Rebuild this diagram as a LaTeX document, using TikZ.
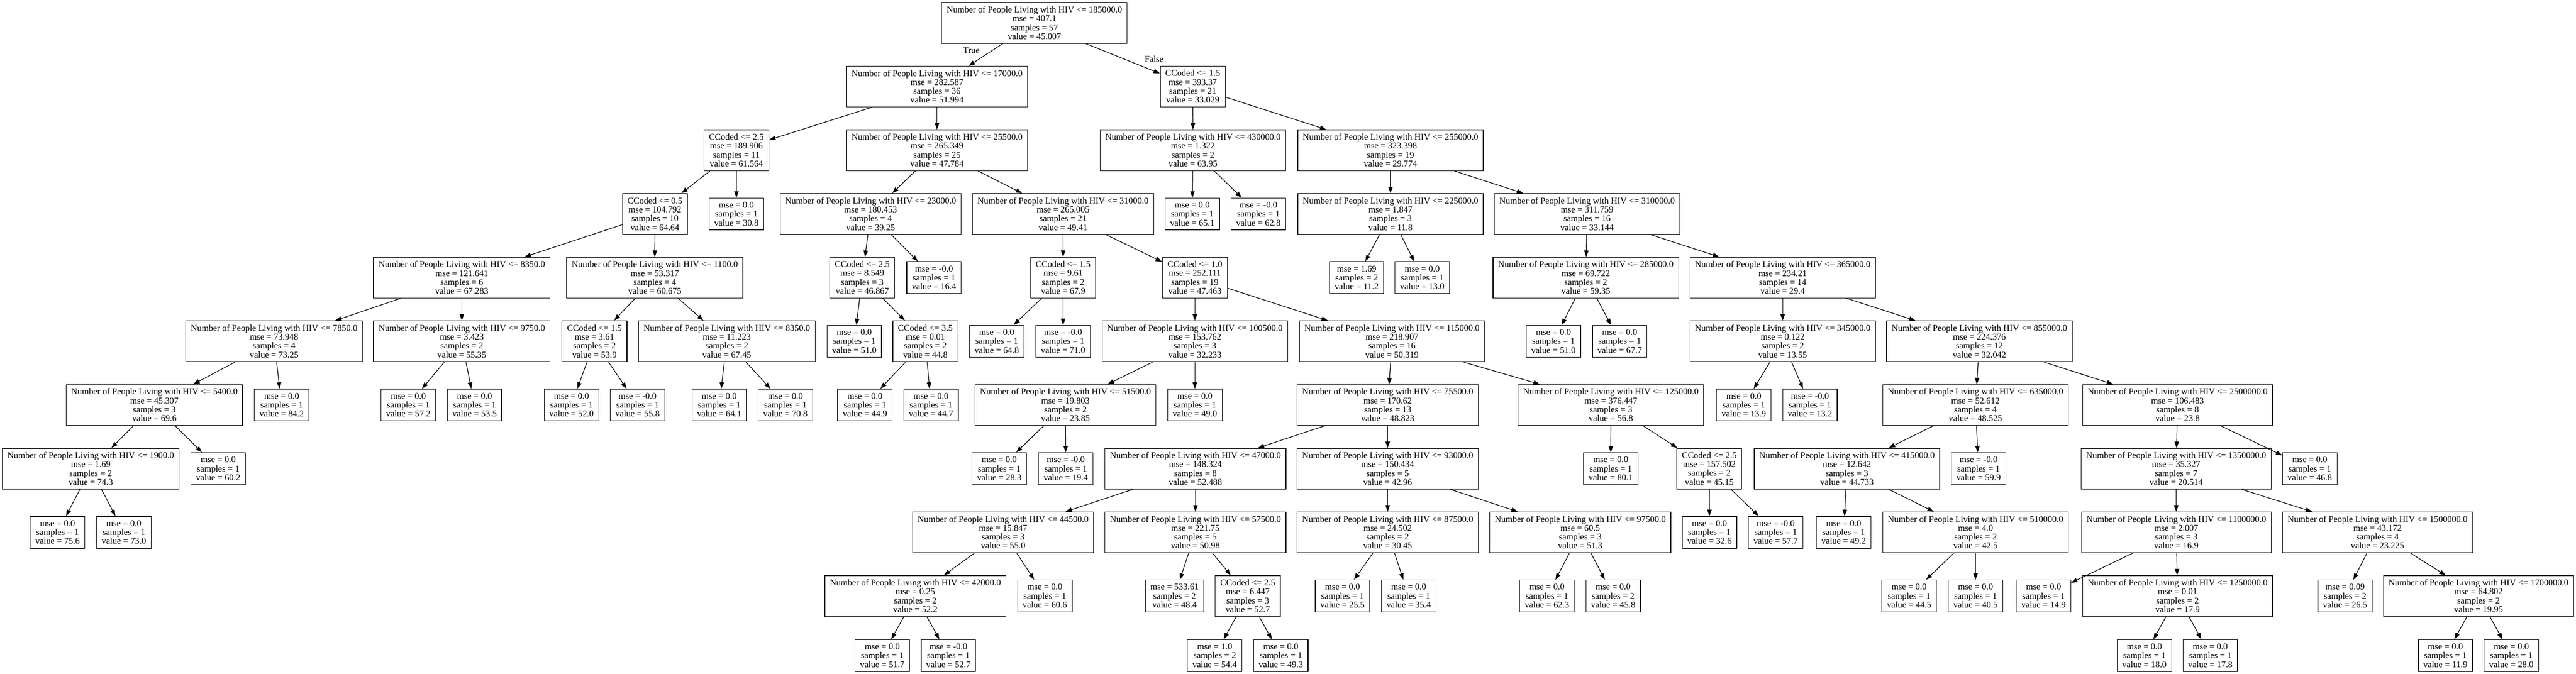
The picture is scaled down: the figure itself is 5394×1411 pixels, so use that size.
\documentclass[tikz,border=0pt]{standalone}
\usepackage{fontspec}
\setmainfont{Liberation Serif}
\usetikzlibrary{arrows.meta}

\begin{document}
\begin{tikzpicture}[
		x=0.75bp, y=-0.75bp,
		every node/.style={font=\fontsize{14bp}{14bp}\selectfont},
		arrow/.style={line width=1bp, -{Triangle[length=10bp, width=7bp]}},
		test box/.style={draw, line width=1bp, align=center, inner xsep=7.92bp, inner ysep=3.96bp, minimum height=64bp},
		leaf box/.style={test box, minimum height=50bp},
	]
	\useasboundingbox (0,0) rectangle (5394,1411);

	% rank 0 and 1
	\node[test box] (hiv 185000) at (2166,48) {Number of People Living with HIV <= 185000.0\\mse = 407.1\\samples = 57\\value = 45.007};
	\node[test box] (hiv 17000) at (1962,181.3) {Number of People Living with HIV <= 17000.0\\mse = 282.587\\samples = 36\\value = 51.994};
	\node[test box] (ccoded 15 a) at (2497.6,181.3) {CCoded <= 1.5\\mse = 393.37\\samples = 21\\value = 33.029};
	\node (true label) at (2034,106) {True};
	\node (false label) at (2416.5,124) {False};

	% rank 2
	\node[test box] (ccoded 25 a) at (1542,314.6) {CCoded <= 2.5\\mse = 189.906\\samples = 11\\value = 61.564};
	\node[test box] (hiv 25500) at (1962,314.6) {Number of People Living with HIV <= 25500.0\\mse = 265.349\\samples = 25\\value = 47.784};
	\node[test box] (hiv 430000) at (2498,314.6) {Number of People Living with HIV <= 430000.0\\mse = 1.322\\samples = 2\\value = 63.95};
	\node[test box] (hiv 255000) at (2911.6,314.6) {Number of People Living with HIV <= 255000.0\\mse = 323.398\\samples = 19\\value = 29.774};

	% rank 3
	\node[test box] (ccoded 05) at (1371.4,447.9) {CCoded <= 0.5\\mse = 104.792\\samples = 10\\value = 64.64};
	\node[leaf box] (leaf 308) at (1542,447.9) {mse = 0.0\\samples = 1\\value = 30.8};
	\node[test box] (hiv 23000) at (1823,447.9) {Number of People Living with HIV <= 23000.0\\mse = 180.453\\samples = 4\\value = 39.25};
	\node[test box] (hiv 31000) at (2226,447.9) {Number of People Living with HIV <= 31000.0\\mse = 265.005\\samples = 21\\value = 49.41};
	\node[leaf box] (leaf 651) at (2496.5,447.9) {mse = 0.0\\samples = 1\\value = 65.1};
	\node[leaf box] (leaf 628) at (2635,447.9) {mse = -0.0\\samples = 1\\value = 62.8};
	\node[test box] (hiv 225000) at (2911.6,447.9) {Number of People Living with HIV <= 225000.0\\mse = 1.847\\samples = 3\\value = 11.8};
	\node[test box] (hiv 310000) at (3323.2,447.9) {Number of People Living with HIV <= 310000.0\\mse = 311.759\\samples = 16\\value = 33.144};

	% rank 4
	\node[test box] (hiv 8350 a) at (967,581.2) {Number of People Living with HIV <= 8350.0\\mse = 121.641\\samples = 6\\value = 67.283};
	\node[test box] (hiv 1100) at (1371.1,581.2) {Number of People Living with HIV <= 1100.0\\mse = 53.317\\samples = 4\\value = 60.675};
	\node[test box] (ccoded 25 b) at (1805.6,581.2) {CCoded <= 2.5\\mse = 8.549\\samples = 3\\value = 46.867};
	\node[leaf box] (leaf 164) at (1955.7,581.2) {mse = -0.0\\samples = 1\\value = 16.4};
	\node[test box] (ccoded 15 c) at (2226.2,581.2) {CCoded <= 1.5\\mse = 9.61\\samples = 2\\value = 67.9};
	\node[test box] (ccoded 10) at (2502,581.2) {CCoded <= 1.0\\mse = 252.111\\samples = 19\\value = 47.463};
	\node[leaf box] (leaf 112) at (2840.8,581.2) {mse = 1.69\\samples = 2\\value = 11.2};
	\node[leaf box] (leaf 130) at (2978,581.2) {mse = 0.0\\samples = 1\\value = 13.0};
	\node[test box] (hiv 285000) at (3320.6,581.2) {Number of People Living with HIV <= 285000.0\\mse = 69.722\\samples = 2\\value = 59.35};
	\node[test box] (hiv 365000) at (3732.8,581.2) {Number of People Living with HIV <= 365000.0\\mse = 234.21\\samples = 14\\value = 29.4};

	% rank 5
	\node[test box] (hiv 7850) at (574,714.5) {Number of People Living with HIV <= 7850.0\\mse = 73.948\\samples = 4\\value = 73.25};
	\node[test box] (hiv 9750) at (967,714.5) {Number of People Living with HIV <= 9750.0\\mse = 3.423\\samples = 2\\value = 55.35};
	\node[test box] (ccoded 15 b) at (1244.8,714.5) {CCoded <= 1.5\\mse = 3.61\\samples = 2\\value = 53.9};
	\node[test box] (hiv 8350 b) at (1521.9,714.5) {Number of People Living with HIV <= 8350.0\\mse = 11.223\\samples = 2\\value = 67.45};
	\node[leaf box] (leaf 510 a) at (1788.8,714.5) {mse = 0.0\\samples = 1\\value = 51.0};
	\node[test box] (ccoded 35) at (1937.6,714.5) {CCoded <= 3.5\\mse = 0.01\\samples = 2\\value = 44.8};
	\node[leaf box] (leaf 648) at (2087,714.5) {mse = 0.0\\samples = 1\\value = 64.8};
	\node[leaf box] (leaf 710) at (2226,714.5) {mse = -0.0\\samples = 1\\value = 71.0};
	\node[test box] (hiv 100500) at (2502,714.5) {Number of People Living with HIV <= 100500.0\\mse = 153.762\\samples = 3\\value = 32.233};
	\node[test box] (hiv 115000) at (2914.8,714.5) {Number of People Living with HIV <= 115000.0\\mse = 218.907\\samples = 16\\value = 50.319};
	\node[leaf box] (leaf 510 b) at (3252.8,714.5) {mse = 0.0\\samples = 1\\value = 51.0};
	\node[leaf box] (leaf 677) at (3391.5,714.5) {mse = 0.0\\samples = 1\\value = 67.7};
	\node[test box] (hiv 345000) at (3732.8,714.5) {Number of People Living with HIV <= 345000.0\\mse = 0.122\\samples = 2\\value = 13.55};
	\node[test box] (hiv 855000) at (4144.7,714.5) {Number of People Living with HIV <= 855000.0\\mse = 224.376\\samples = 12\\value = 32.042};

	% rank 6
	\node[test box] (hiv 5400) at (323.2,847.8) {Number of People Living with HIV <= 5400.0\\mse = 45.307\\samples = 3\\value = 69.6};
	\node[leaf box] (leaf 842) at (589.8,847.8) {mse = 0.0\\samples = 1\\value = 84.2};
	\node[leaf box] (leaf 572) at (855,847.8) {mse = 0.0\\samples = 1\\value = 57.2};
	\node[leaf box] (leaf 535) at (993.7,847.8) {mse = 0.0\\samples = 1\\value = 53.5};
	\node[leaf box] (leaf 520) at (1196.7,847.8) {mse = 0.0\\samples = 1\\value = 52.0};
	\node[leaf box] (leaf 558) at (1335,847.8) {mse = -0.0\\samples = 1\\value = 55.8};
	\node[leaf box] (leaf 641) at (1506.1,847.8) {mse = 0.0\\samples = 1\\value = 64.1};
	\node[leaf box] (leaf 708) at (1644.6,847.8) {mse = 0.0\\samples = 1\\value = 70.8};
	\node[leaf box] (leaf 449) at (1811.2,847.8) {mse = 0.0\\samples = 1\\value = 44.9};
	\node[leaf box] (leaf 447) at (1949.5,847.8) {mse = 0.0\\samples = 1\\value = 44.7};
	\node[test box] (hiv 51500) at (2231,847.8) {Number of People Living with HIV <= 51500.0\\mse = 19.803\\samples = 2\\value = 23.85};
	\node[leaf box] (leaf 490) at (2502,847.8) {mse = 0.0\\samples = 1\\value = 49.0};
	\node[test box] (hiv 75500) at (2905.7,847.8) {Number of People Living with HIV <= 75500.0\\mse = 170.62\\samples = 13\\value = 48.823};
	\node[test box] (hiv 125000) at (3373.1,847.8) {Number of People Living with HIV <= 125000.0\\mse = 376.447\\samples = 3\\value = 56.8};
	\node[leaf box] (leaf 139) at (3651.4,847.8) {mse = 0.0\\samples = 1\\value = 13.9};
	\node[leaf box] (leaf 132) at (3790,847.8) {mse = -0.0\\samples = 1\\value = 13.2};
	\node[test box] (hiv 635000) at (4136.5,847.8) {Number of People Living with HIV <= 635000.0\\mse = 52.612\\samples = 4\\value = 48.525};
	\node[test box] (hiv 2500000) at (4559.6,847.8) {Number of People Living with HIV <= 2500000.0\\mse = 106.483\\samples = 8\\value = 23.8};

	% rank 7
	\node[test box] (hiv 1900) at (190,981.1) {Number of People Living with HIV <= 1900.0\\mse = 1.69\\samples = 2\\value = 74.3};
	\node[leaf box] (leaf 602) at (456.9,981.1) {mse = 0.0\\samples = 1\\value = 60.2};
	\node[leaf box] (leaf 283) at (2092.4,981.1) {mse = 0.0\\samples = 1\\value = 28.3};
	\node[leaf box] (leaf 194) at (2231.7,981.1) {mse = -0.0\\samples = 1\\value = 19.4};
	\node[test box] (hiv 47000) at (2503.1,981.1) {Number of People Living with HIV <= 47000.0\\mse = 148.324\\samples = 8\\value = 52.488};
	\node[test box] (hiv 93000) at (2905.7,981.1) {Number of People Living with HIV <= 93000.0\\mse = 150.434\\samples = 5\\value = 42.96};
	\node[leaf box] (leaf 801) at (3372.8,981.1) {mse = 0.0\\samples = 1\\value = 80.1};
	\node[test box] (ccoded 25 d) at (3579.2,981.1) {CCoded <= 2.5\\mse = 157.502\\samples = 2\\value = 45.15};
	\node[test box] (hiv 415000) at (3867.4,981.1) {Number of People Living with HIV <= 415000.0\\mse = 12.642\\samples = 3\\value = 44.733};
	\node[leaf box] (leaf 599) at (4142.9,981.1) {mse = -0.0\\samples = 1\\value = 59.9};
	\node[test box] (hiv 1350000) at (4556.6,981.1) {Number of People Living with HIV <= 1350000.0\\mse = 35.327\\samples = 7\\value = 20.514};
	\node[leaf box] (leaf 468) at (4836.5,981.1) {mse = 0.0\\samples = 1\\value = 46.8};

	% rank 8
	\node[leaf box] (leaf 756) at (120.5,1114.4) {mse = 0.0\\samples = 1\\value = 75.6};
	\node[leaf box] (leaf 730) at (259.4,1114.4) {mse = 0.0\\samples = 1\\value = 73.0};
	\node[test box] (hiv 44500) at (2100.5,1114.4) {Number of People Living with HIV <= 44500.0\\mse = 15.847\\samples = 3\\value = 55.0};
	\node[test box] (hiv 57500) at (2503.1,1114.4) {Number of People Living with HIV <= 57500.0\\mse = 221.75\\samples = 5\\value = 50.98};
	\node[test box] (hiv 87500) at (2905.7,1114.4) {Number of People Living with HIV <= 87500.0\\mse = 24.502\\samples = 2\\value = 30.45};
	\node[test box] (hiv 97500) at (3308.9,1114.4) {Number of People Living with HIV <= 97500.0\\mse = 60.5\\samples = 3\\value = 51.3};
	\node[leaf box] (leaf 326) at (3579.5,1114.4) {mse = 0.0\\samples = 1\\value = 32.6};
	\node[leaf box] (leaf 577) at (3718.2,1114.4) {mse = -0.0\\samples = 1\\value = 57.7};
	\node[leaf box] (leaf 492) at (3860.5,1114.4) {mse = 0.0\\samples = 1\\value = 49.2};
	\node[test box] (hiv 510000) at (4136.6,1114.4) {Number of People Living with HIV <= 510000.0\\mse = 4.0\\samples = 2\\value = 42.5};
	\node[test box] (hiv 1100000) at (4557,1114.4) {Number of People Living with HIV <= 1100000.0\\mse = 2.007\\samples = 3\\value = 16.9};
	\node[test box] (hiv 1500000) at (4978.3,1114.4) {Number of People Living with HIV <= 1500000.0\\mse = 43.172\\samples = 4\\value = 23.225};

	% rank 9
	\node[test box] (hiv 42000) at (1916.7,1247.7) {Number of People Living with HIV <= 42000.0\\mse = 0.25\\samples = 2\\value = 52.2};
	\node[leaf box] (leaf 606) at (2187.8,1247.7) {mse = 0.0\\samples = 1\\value = 60.6};
	\node[leaf box] (leaf 484) at (2459.5,1247.7) {mse = 533.61\\samples = 2\\value = 48.4};
	\node[test box] (ccoded 25 c) at (2612.7,1247.7) {CCoded <= 2.5\\mse = 6.447\\samples = 3\\value = 52.7};
	\node[leaf box] (leaf 255) at (2811.1,1247.7) {mse = 0.0\\samples = 1\\value = 25.5};
	\node[leaf box] (leaf 354) at (2949.8,1247.7) {mse = 0.0\\samples = 1\\value = 35.4};
	\node[leaf box] (leaf 623) at (3239.3,1247.7) {mse = 0.0\\samples = 1\\value = 62.3};
	\node[leaf box] (leaf 458) at (3377.8,1247.7) {mse = 0.0\\samples = 2\\value = 45.8};
	\node[leaf box] (leaf 445) at (3997.6,1247.7) {mse = 0.0\\samples = 1\\value = 44.5};
	\node[leaf box] (leaf 405) at (4136.6,1247.7) {mse = 0.0\\samples = 1\\value = 40.5};
	\node[leaf box] (leaf 149) at (4279,1247.7) {mse = 0.0\\samples = 1\\value = 14.9};
	\node[test box] (hiv 1250000) at (4559.6,1247.7) {Number of People Living with HIV <= 1250000.0\\mse = 0.01\\samples = 2\\value = 17.9};
	\node[leaf box] (leaf 265) at (4910.4,1247.7) {mse = 0.09\\samples = 2\\value = 26.5};
	\node[test box] (hiv 1700000) at (5189.8,1247.7) {Number of People Living with HIV <= 1700000.0\\mse = 64.802\\samples = 2\\value = 19.95};

	% rank 10
	\node[leaf box] (leaf 517) at (1847.4,1372.3) {mse = 0.0\\samples = 1\\value = 51.7};
	\node[leaf box] (leaf 527) at (1985.8,1372.3) {mse = -0.0\\samples = 1\\value = 52.7};
	\node[leaf box] (leaf 544) at (2543.5,1372.3) {mse = 1.0\\samples = 2\\value = 54.4};
	\node[leaf box] (leaf 493) at (2682,1372.3) {mse = 0.0\\samples = 1\\value = 49.3};
	\node[leaf box] (leaf 180) at (4490.2,1372.3) {mse = 0.0\\samples = 1\\value = 18.0};
	\node[leaf box] (leaf 178) at (4628.2,1372.3) {mse = 0.0\\samples = 1\\value = 17.8};
	\node[leaf box] (leaf 119) at (5120.4,1372.3) {mse = 0.0\\samples = 1\\value = 11.9};
	\node[leaf box] (leaf 280) at (5258.5,1372.3) {mse = 0.0\\samples = 1\\value = 28.0};

	\draw[arrow] (hiv 185000) -- (hiv 17000);
	\draw[arrow] (hiv 185000) -- (ccoded 15 a);
	\draw[arrow] (hiv 17000) -- (ccoded 25 a);
	\draw[arrow] (hiv 17000) -- (hiv 25500);
	\draw[arrow] (ccoded 25 a) -- (ccoded 05);
	\draw[arrow] (ccoded 25 a) -- (leaf 308);
	\draw[arrow] (ccoded 05) -- (hiv 8350 a);
	\draw[arrow] (ccoded 05) -- (hiv 1100);
	\draw[arrow] (hiv 8350 a) -- (hiv 7850);
	\draw[arrow] (hiv 8350 a) -- (hiv 9750);
	\draw[arrow] (hiv 7850) -- (hiv 5400);
	\draw[arrow] (hiv 7850) -- (leaf 842);
	\draw[arrow] (hiv 5400) -- (hiv 1900);
	\draw[arrow] (hiv 5400) -- (leaf 602);
	\draw[arrow] (hiv 1900) -- (leaf 756);
	\draw[arrow] (hiv 1900) -- (leaf 730);
	\draw[arrow] (hiv 9750) -- (leaf 572);
	\draw[arrow] (hiv 9750) -- (leaf 535);
	\draw[arrow] (hiv 1100) -- (ccoded 15 b);
	\draw[arrow] (hiv 1100) -- (hiv 8350 b);
	\draw[arrow] (ccoded 15 b) -- (leaf 520);
	\draw[arrow] (ccoded 15 b) -- (leaf 558);
	\draw[arrow] (hiv 8350 b) -- (leaf 641);
	\draw[arrow] (hiv 8350 b) -- (leaf 708);
	\draw[arrow] (hiv 25500) -- (hiv 23000);
	\draw[arrow] (hiv 25500) -- (hiv 31000);
	\draw[arrow] (hiv 23000) -- (ccoded 25 b);
	\draw[arrow] (hiv 23000) -- (leaf 164);
	\draw[arrow] (ccoded 25 b) -- (leaf 510 a);
	\draw[arrow] (ccoded 25 b) -- (ccoded 35);
	\draw[arrow] (ccoded 35) -- (leaf 449);
	\draw[arrow] (ccoded 35) -- (leaf 447);
	\draw[arrow] (hiv 31000) -- (ccoded 15 c);
	\draw[arrow] (hiv 31000) -- (ccoded 10);
	\draw[arrow] (ccoded 15 c) -- (leaf 648);
	\draw[arrow] (ccoded 15 c) -- (leaf 710);
	\draw[arrow] (ccoded 10) -- (hiv 100500);
	\draw[arrow] (ccoded 10) -- (hiv 115000);
	\draw[arrow] (hiv 100500) -- (hiv 51500);
	\draw[arrow] (hiv 100500) -- (leaf 490);
	\draw[arrow] (hiv 51500) -- (leaf 283);
	\draw[arrow] (hiv 51500) -- (leaf 194);
	\draw[arrow] (hiv 115000) -- (hiv 75500);
	\draw[arrow] (hiv 115000) -- (hiv 125000);
	\draw[arrow] (hiv 75500) -- (hiv 47000);
	\draw[arrow] (hiv 75500) -- (hiv 93000);
	\draw[arrow] (hiv 47000) -- (hiv 44500);
	\draw[arrow] (hiv 47000) -- (hiv 57500);
	\draw[arrow] (hiv 44500) -- (hiv 42000);
	\draw[arrow] (hiv 44500) -- (leaf 606);
	\draw[arrow] (hiv 42000) -- (leaf 517);
	\draw[arrow] (hiv 42000) -- (leaf 527);
	\draw[arrow] (hiv 57500) -- (leaf 484);
	\draw[arrow] (hiv 57500) -- (ccoded 25 c);
	\draw[arrow] (ccoded 25 c) -- (leaf 544);
	\draw[arrow] (ccoded 25 c) -- (leaf 493);
	\draw[arrow] (hiv 93000) -- (hiv 87500);
	\draw[arrow] (hiv 93000) -- (hiv 97500);
	\draw[arrow] (hiv 87500) -- (leaf 255);
	\draw[arrow] (hiv 87500) -- (leaf 354);
	\draw[arrow] (hiv 97500) -- (leaf 623);
	\draw[arrow] (hiv 97500) -- (leaf 458);
	\draw[arrow] (hiv 125000) -- (leaf 801);
	\draw[arrow] (hiv 125000) -- (ccoded 25 d);
	\draw[arrow] (ccoded 25 d) -- (leaf 326);
	\draw[arrow] (ccoded 25 d) -- (leaf 577);
	\draw[arrow] (ccoded 15 a) -- (hiv 430000);
	\draw[arrow] (ccoded 15 a) -- (hiv 255000);
	\draw[arrow] (hiv 430000) -- (leaf 651);
	\draw[arrow] (hiv 430000) -- (leaf 628);
	\draw[arrow] (hiv 255000) -- (hiv 225000);
	\draw[arrow] (hiv 255000) -- (hiv 310000);
	\draw[arrow] (hiv 225000) -- (leaf 112);
	\draw[arrow] (hiv 225000) -- (leaf 130);
	\draw[arrow] (hiv 310000) -- (hiv 285000);
	\draw[arrow] (hiv 310000) -- (hiv 365000);
	\draw[arrow] (hiv 285000) -- (leaf 510 b);
	\draw[arrow] (hiv 285000) -- (leaf 677);
	\draw[arrow] (hiv 365000) -- (hiv 345000);
	\draw[arrow] (hiv 365000) -- (hiv 855000);
	\draw[arrow] (hiv 345000) -- (leaf 139);
	\draw[arrow] (hiv 345000) -- (leaf 132);
	\draw[arrow] (hiv 855000) -- (hiv 635000);
	\draw[arrow] (hiv 855000) -- (hiv 2500000);
	\draw[arrow] (hiv 635000) -- (hiv 415000);
	\draw[arrow] (hiv 635000) -- (leaf 599);
	\draw[arrow] (hiv 415000) -- (leaf 492);
	\draw[arrow] (hiv 415000) -- (hiv 510000);
	\draw[arrow] (hiv 510000) -- (leaf 445);
	\draw[arrow] (hiv 510000) -- (leaf 405);
	\draw[arrow] (hiv 2500000) -- (hiv 1350000);
	\draw[arrow] (hiv 2500000) -- (leaf 468);
	\draw[arrow] (hiv 1350000) -- (hiv 1100000);
	\draw[arrow] (hiv 1350000) -- (hiv 1500000);
	\draw[arrow] (hiv 1100000) -- (leaf 149);
	\draw[arrow] (hiv 1100000) -- (hiv 1250000);
	\draw[arrow] (hiv 1250000) -- (leaf 180);
	\draw[arrow] (hiv 1250000) -- (leaf 178);
	\draw[arrow] (hiv 1500000) -- (leaf 265);
	\draw[arrow] (hiv 1500000) -- (hiv 1700000);
	\draw[arrow] (hiv 1700000) -- (leaf 119);
	\draw[arrow] (hiv 1700000) -- (leaf 280);
\end{tikzpicture}
\end{document}
